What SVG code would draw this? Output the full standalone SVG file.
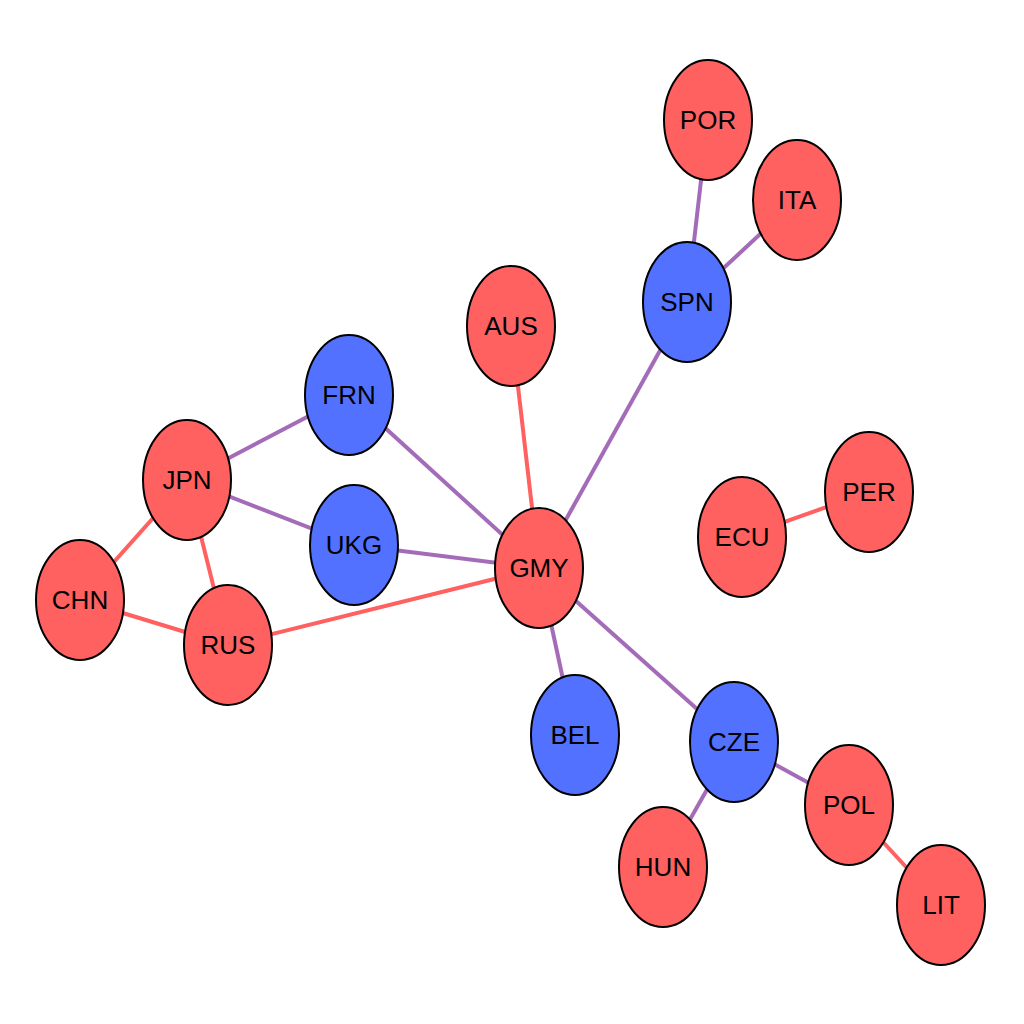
<svg xmlns="http://www.w3.org/2000/svg" width="1024" height="1024" viewBox="0 0 1024 1024">
<style>
.r{fill:#FF6161;stroke:#000;stroke-width:2}
.b{fill:#5271FF;stroke:#000;stroke-width:2}
.p{stroke:#A46CB8;stroke-width:4}
.e{stroke:#FF6161;stroke-width:4}
text{font-family:"Liberation Sans",Arial,sans-serif;font-size:26px;text-anchor:middle;dominant-baseline:central;fill:#000}
</style>
<rect width="1024" height="1024" fill="#fff"/>
<g id="edges">
<line class="p" x1="708" y1="120" x2="687" y2="302"/>
<line class="p" x1="797" y1="200" x2="687" y2="302"/>
<line class="p" x1="687" y1="302" x2="539" y2="568"/>
<line class="e" x1="511" y1="326" x2="539" y2="568"/>
<line class="p" x1="349" y1="395" x2="539" y2="568"/>
<line class="p" x1="349" y1="395" x2="187" y2="480"/>
<line class="p" x1="187" y1="480" x2="354" y2="545"/>
<line class="p" x1="354" y1="545" x2="539" y2="568"/>
<line class="e" x1="187" y1="480" x2="80" y2="600"/>
<line class="e" x1="187" y1="480" x2="228" y2="645"/>
<line class="e" x1="80" y1="600" x2="228" y2="645"/>
<line class="e" x1="228" y1="645" x2="539" y2="568"/>
<line class="e" x1="742" y1="537" x2="869" y2="492"/>
<line class="p" x1="539" y1="568" x2="575" y2="735"/>
<line class="p" x1="539" y1="568" x2="734" y2="742"/>
<line class="p" x1="734" y1="742" x2="849" y2="805"/>
<line class="p" x1="734" y1="742" x2="663" y2="867"/>
<line class="e" x1="849" y1="805" x2="941" y2="905"/>
</g>
<g id="POR"><ellipse class="r" cx="708" cy="120" rx="44" ry="60"/><text x="708" y="120">POR</text></g>
<g id="ITA"><ellipse class="r" cx="797" cy="200" rx="44" ry="60"/><text x="797" y="200">ITA</text></g>
<g id="SPN"><ellipse class="b" cx="687" cy="302" rx="44" ry="60"/><text x="687" y="302">SPN</text></g>
<g id="AUS"><ellipse class="r" cx="511" cy="326" rx="44" ry="60"/><text x="511" y="326">AUS</text></g>
<g id="FRN"><ellipse class="b" cx="349" cy="395" rx="44" ry="60"/><text x="349" y="395">FRN</text></g>
<g id="JPN"><ellipse class="r" cx="187" cy="480" rx="44" ry="60"/><text x="187" y="480">JPN</text></g>
<g id="UKG"><ellipse class="b" cx="354" cy="545" rx="44" ry="60"/><text x="354" y="545">UKG</text></g>
<g id="GMY"><ellipse class="r" cx="539" cy="568" rx="44" ry="60"/><text x="539" y="568">GMY</text></g>
<g id="CHN"><ellipse class="r" cx="80" cy="600" rx="44" ry="60"/><text x="80" y="600">CHN</text></g>
<g id="RUS"><ellipse class="r" cx="228" cy="645" rx="44" ry="60"/><text x="228" y="645">RUS</text></g>
<g id="ECU"><ellipse class="r" cx="742" cy="537" rx="44" ry="60"/><text x="742" y="537">ECU</text></g>
<g id="PER"><ellipse class="r" cx="869" cy="492" rx="44" ry="60"/><text x="869" y="492">PER</text></g>
<g id="BEL"><ellipse class="b" cx="575" cy="735" rx="44" ry="60"/><text x="575" y="735">BEL</text></g>
<g id="CZE"><ellipse class="b" cx="734" cy="742" rx="44" ry="60"/><text x="734" y="742">CZE</text></g>
<g id="POL"><ellipse class="r" cx="849" cy="805" rx="44" ry="60"/><text x="849" y="805">POL</text></g>
<g id="HUN"><ellipse class="r" cx="663" cy="867" rx="44" ry="60"/><text x="663" y="867">HUN</text></g>
<g id="LIT"><ellipse class="r" cx="941" cy="905" rx="44" ry="60"/><text x="941" y="905">LIT</text></g>
</svg>
